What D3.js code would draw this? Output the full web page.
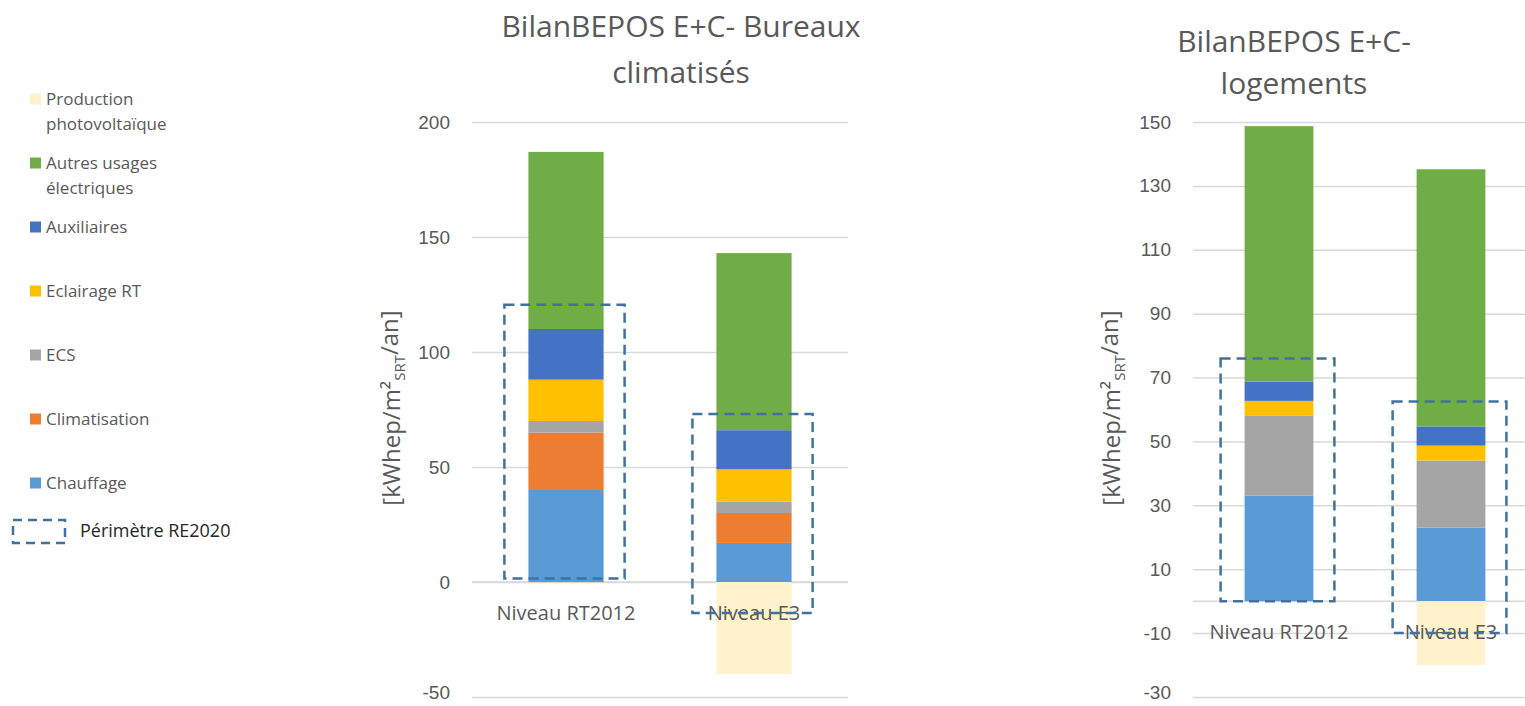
<!DOCTYPE html>
<html>
<head>
<meta charset="utf-8">
<script src="https://cdn.jsdelivr.net/npm/d3@7"></script>
<style>
  body { margin: 0; background: #fff; }
  svg { display: block; font-family: "Open Sans", "Noto Sans", sans-serif; }
</style>
</head>
<body>
<svg id="chart" width="1525" height="706"></svg>
<script>
// categories and series
var categories = ["Niveau RT2012", "Niveau E3"];
var seriesNames = ["Chauffage", "Climatisation", "ECS", "Eclairage RT", "Auxiliaires", "Autres usages électriques", "Production photovoltaïque"];

// Bureaux climatisés, kWhep/m2/an
var bureauxChauffage = [40, 17];
var bureauxClim = [25, 13];
var bureauxECS = [5, 5];
var bureauxEclairage = [18, 14];
var bureauxAux = [22, 17];
var bureauxAutres = [77, 77];
var bureauxPV = [0, -40];
var bureauxPerimetre = [[1.5, 120.5], [-13.5, 73]];
var bureauxTicks = [-50, 0, 50, 100, 150, 200];

// Logements
var logChauffage = [33, 23];
var logClim = [0, 0];
var logECS = [25, 21];
var logEclairage = [4.7, 4.7];
var logAux = [6, 6];
var logAutres = [80, 80.5];
var logPV = [0, -20];
var logPerimetre = [[0, 76], [-10, 62.5]];
var logTicks = [-30, -10, 10, 30, 50, 70, 90, 110, 130, 150];

var colors = {
  "Chauffage": "#5B9BD5",
  "Climatisation": "#ED7D31",
  "ECS": "#A5A5A5",
  "Eclairage RT": "#FFC000",
  "Auxiliaires": "#4472C4",
  "Autres usages électriques": "#70AD47",
  "Production photovoltaïque": "#FFF2CC"
};
var boxColor = "#41719C";
var textColor = "#595959";

var svg = d3.select("#chart");

function buildRows(lists) {
  return categories.map(function (c, i) {
    var row = { cat: c };
    seriesNames.forEach(function (s, k) { row[s] = lists[k][i]; });
    return row;
  });
}

function drawChart(opts) {
  var x = d3.scaleBand().domain(categories).range(opts.xRange).paddingInner(0.6).paddingOuter(0.3);
  var y = d3.scaleLinear().domain(opts.domain).range([697, 122]);
  var w = opts.xRange[1] - opts.xRange[0];
  var g = svg.append("g");

  // gridlines + tick labels
  var axis = g.append("g")
    .attr("transform", "translate(" + opts.xRange[0] + ",0)")
    .call(d3.axisLeft(y).tickValues(opts.ticks).tickSize(-w).tickPadding(22).tickFormat(function (d) { return String(d); }));
  axis.select(".domain").remove();
  axis.selectAll(".tick line").attr("stroke", "#D9D9D9").attr("stroke-width", 1.5);
  axis.selectAll(".tick text").attr("fill", textColor).style("font-size", "19px");
  // lowest label sits on the bottom edge, nudge it up a bit
  axis.selectAll(".tick text").filter(function (d) { return d === opts.domain[0]; }).attr("dy", "0.1em");

  // zero line
  g.append("line")
    .attr("x1", opts.xRange[0]).attr("x2", opts.xRange[1])
    .attr("y1", y(0)).attr("y2", y(0))
    .attr("stroke", "#D9D9D9").attr("stroke-width", 1.5);

  // stacked bars
  var rows = buildRows(opts.lists);
  var stack = d3.stack().keys(seriesNames).offset(d3.stackOffsetDiverging);
  var layers = stack(rows);
  g.selectAll(".layer").data(layers).enter().append("g")
    .attr("fill", function (d) { return colors[d.key]; })
    .selectAll("rect").data(function (d) { return d; }).enter().append("rect")
    .attr("x", function (d) { return x(d.data.cat); })
    .attr("width", x.bandwidth())
    .attr("y", function (d) { return y(d[1]); })
    .attr("height", function (d) { return Math.max(0, y(d[0]) - y(d[1])); });

  // category labels
  g.selectAll(".cat").data(categories).enter().append("text")
    .attr("x", function (d) { return x(d) + x.bandwidth() / 2; })
    .attr("y", y(0) + 38)
    .attr("text-anchor", "middle")
    .attr("fill", textColor)
    .style("font-size", "20px")
    .text(function (d) { return d; });

  // périmètre RE2020 boxes
  var pad = 24;
  g.selectAll(".perim").data(opts.perim).enter().append("rect")
    .attr("x", function (d, i) { return x(categories[i]) - pad; })
    .attr("width", x.bandwidth() + pad * 2 - 3)
    .attr("y", function (d) { return y(d[1]); })
    .attr("height", function (d) { return y(d[0]) - y(d[1]); })
    .attr("fill", "none")
    .attr("stroke", boxColor)
    .attr("stroke-width", 2.5)
    .attr("stroke-dasharray", "10,6");

  // y axis label
  var lab = g.append("text")
    .attr("transform", "translate(" + opts.labelX + ",408) rotate(-90)")
    .attr("text-anchor", "middle")
    .attr("dy", "0.35em")
    .attr("fill", textColor)
    .style("font-size", "24px");
  lab.append("tspan").text("[kWhep/m²");
  lab.append("tspan").attr("dy", "0.3em").style("font-size", "15px").text("SRT");
  lab.append("tspan").attr("dy", "-0.3em").text("/an]");

  // title
  var t = g.append("text")
    .attr("text-anchor", "middle")
    .attr("fill", textColor)
    .style("font-size", "30px");
  opts.title.forEach(function (line, i) {
    t.append("tspan").attr("x", opts.titleX).attr("y", opts.titleY + i * opts.titleGap).text(line);
  });
}

drawChart({
  xRange: [472, 848], domain: [-50, 200], ticks: bureauxTicks,
  lists: [bureauxChauffage, bureauxClim, bureauxECS, bureauxEclairage, bureauxAux, bureauxAutres, bureauxPV],
  perim: bureauxPerimetre, labelX: 392,
  title: ["BilanBEPOS E+C- Bureaux", "climatisés"], titleX: 681, titleY: 37, titleGap: 46
});

drawChart({
  xRange: [1193, 1537], domain: [-30, 150], ticks: logTicks,
  lists: [logChauffage, logClim, logECS, logEclairage, logAux, logAutres, logPV],
  perim: logPerimetre, labelX: 1112,
  title: ["BilanBEPOS E+C-", "logements"], titleX: 1294, titleY: 52, titleGap: 42
});

// legend
var legendItems = [
  ["Production", "photovoltaïque"],
  ["Autres usages", "électriques"],
  ["Auxiliaires"],
  ["Eclairage RT"],
  ["ECS"],
  ["Climatisation"],
  ["Chauffage"]
];
var legendKeys = ["Production photovoltaïque", "Autres usages électriques", "Auxiliaires", "Eclairage RT", "ECS", "Climatisation", "Chauffage"];

var legend = svg.append("g");
var li = legend.selectAll(".li").data(legendKeys).enter().append("g")
  .attr("transform", function (d, i) { return "translate(0," + (99 + i * 64) + ")"; });
li.append("rect").attr("x", 30).attr("y", -5.5).attr("width", 11).attr("height", 11)
  .attr("fill", function (d) { return colors[d]; });
li.append("text")
  .attr("fill", textColor)
  .style("font-size", "17px")
  .each(function (d, i) {
    var el = d3.select(this);
    legendItems[i].forEach(function (line, j) {
      el.append("tspan").attr("x", 46).attr("y", 6 + j * 25).text(line);
    });
  });

legend.append("rect").attr("x", 13).attr("y", 520).attr("width", 52).attr("height", 23)
  .attr("fill", "none").attr("stroke", boxColor).attr("stroke-width", 2.5).attr("stroke-dasharray", "9,6");
legend.append("text").attr("x", 80).attr("y", 537).attr("fill", "#262626").style("font-size", "18px").text("Périmètre RE2020");
</script>
</body>
</html>
